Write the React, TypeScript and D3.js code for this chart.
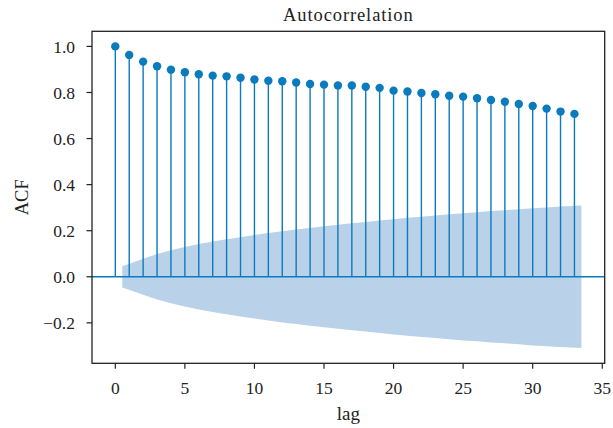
import React from "react";
import * as d3 from "d3";

// autocorrelation per lag (lag 0..33)
const acfValues = [
  1.0, 0.963, 0.934, 0.914, 0.899, 0.888, 0.879, 0.873, 0.87, 0.864, 0.856,
  0.851, 0.849, 0.843, 0.837, 0.834, 0.83, 0.83, 0.825, 0.82, 0.808, 0.804,
  0.798, 0.792, 0.786, 0.782, 0.775, 0.767, 0.76, 0.75, 0.741, 0.73, 0.717,
  0.707,
];

// half width of the confidence band for lags 1..33
const confHalf = [
  0.046, 0.078, 0.099, 0.115, 0.129, 0.142, 0.153, 0.163, 0.172, 0.181, 0.19,
  0.198, 0.205, 0.212, 0.219, 0.226, 0.232, 0.238, 0.244, 0.25, 0.256, 0.261,
  0.266, 0.271, 0.276, 0.28, 0.285, 0.289, 0.293, 0.298, 0.301, 0.305, 0.309,
];

const xTicks = [0, 5, 10, 15, 20, 25, 30, 35];
const yTicks = [-0.2, 0.0, 0.2, 0.4, 0.6, 0.8, 1.0];

const W = 613;
const H = 428;
const left = 92;
const right = 604.7;
const top = 31.3;
const bottom = 363.3;

const font = "'Liberation Serif', 'Times New Roman', serif";
const blue = "#0a7bbd";

export default function App() {
  const x = d3.scaleLinear().domain([-1.675, 35.175]).range([left, right]);
  const y = d3.scaleLinear().domain([-0.3755, 1.0655]).range([bottom, top]);

  const last = confHalf.length - 1;
  const band = confHalf.map((h, i) => {
    const lag = i + 1;
    const lx = i === 0 ? lag - 0.5 : i === last ? lag + 0.5 : lag;
    return { lx, h };
  });

  const area = d3
    .area<{ lx: number; h: number }>()
    .x((d) => x(d.lx))
    .y0((d) => y(-d.h))
    .y1((d) => y(d.h));

  const fmt = (v: number) => (v < 0 ? "\u2212" : "") + Math.abs(v).toFixed(1);

  return (
    <svg
      width={W}
      height={H}
      style={{ position: "absolute", left: 0, top: 0, background: "#fff" }}
    >
      <path d={area(band) || ""} fill="#bad2e9" />
      <line
        x1={left}
        x2={right}
        y1={y(0)}
        y2={y(0)}
        stroke={blue}
        strokeWidth={1.6}
      />
      {acfValues.map((v, i) => (
        <g key={i}>
          <line
            x1={x(i)}
            x2={x(i)}
            y1={y(0)}
            y2={y(v)}
            stroke={blue}
            strokeWidth={1.4}
          />
          <circle cx={x(i)} cy={y(v)} r={4.2} fill={blue} />
        </g>
      ))}

      <rect
        x={left}
        y={top}
        width={right - left}
        height={bottom - top}
        fill="none"
        stroke="#222"
        strokeWidth={1.3}
      />

      {yTicks.map((t) => (
        <g key={t}>
          <line
            x1={left - 5.5}
            x2={left}
            y1={y(t)}
            y2={y(t)}
            stroke="#222"
            strokeWidth={1.2}
          />
          <text
            x={left - 17}
            y={y(t)}
            dy="0.35em"
            textAnchor="end"
            fontFamily={font}
            fontSize={17.5}
            fill="#222"
          >
            {fmt(t)}
          </text>
        </g>
      ))}

      {xTicks.map((t) => (
        <g key={t}>
          <line
            x1={x(t)}
            x2={x(t)}
            y1={bottom}
            y2={bottom + 5.5}
            stroke="#222"
            strokeWidth={1.2}
          />
          <text
            x={x(t)}
            y={393.5}
            textAnchor="middle"
            fontFamily={font}
            fontSize={17.5}
            fill="#222"
          >
            {t}
          </text>
        </g>
      ))}

      <text
        x={(left + right) / 2}
        y={21}
        textAnchor="middle"
        fontFamily={font}
        fontSize={18.5}
        letterSpacing={0.9}
        fill="#222"
      >
        Autocorrelation
      </text>
      <text
        x={(left + right) / 2}
        y={419.5}
        textAnchor="middle"
        fontFamily={font}
        fontSize={19}
        fill="#222"
      >
        lag
      </text>
      <text
        transform={`translate(27.5, ${(top + bottom) / 2}) rotate(-90)`}
        textAnchor="middle"
        fontFamily={font}
        fontSize={18.5}
        fill="#222"
      >
        ACF
      </text>
    </svg>
  );
}
